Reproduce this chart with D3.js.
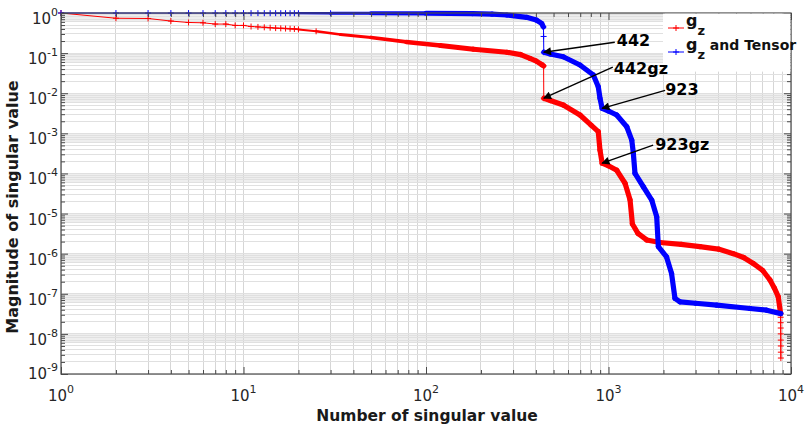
<!DOCTYPE html>
<html>
<head>
<meta charset="utf-8">
<script src="https://cdn.jsdelivr.net/npm/d3@7/dist/d3.min.js"></script>
<style>
  body { margin: 0; background: #fff; }
  svg text { font-family: "DejaVu Sans", sans-serif; }
</style>
</head>
<body>
<svg id="chart" width="809" height="425"></svg>
<script>
// singular value spectra (log-log)
const redN = [1, 2, 3, 4, 5, 6, 7, 8, 9, 10, 11, 12, 13, 14, 15, 16, 17, 18, 19, 20,
  25, 34, 50, 78, 120, 182, 277, 330, 371, 400, 430, 441, 442,
  480, 565, 698, 803, 879, 898, 923, 1000, 1109, 1232, 1312, 1352, 1450, 1619, 1914,
  2500, 3170, 4000, 4830, 5500, 6210, 7000, 7670, 8100, 8510, 8770,
  8775, 8780, 8784, 8788, 8791, 8794, 8797, 8800];
const redV = [1, 0.74, 0.73, 0.63, 0.58, 0.57, 0.53, 0.53, 0.49, 0.49, 0.46, 0.45, 0.44, 0.43, 0.42, 0.415, 0.41, 0.405, 0.40, 0.39,
  0.35, 0.29, 0.245, 0.19, 0.155, 0.125, 0.105, 0.092, 0.074, 0.064, 0.052, 0.048, 0.0075,
  0.0066, 0.0051, 0.00286, 0.0016, 0.0011, 0.00038, 0.00018, 0.000155, 0.00012, 0.000057, 0.000022, 0.0000055, 0.0000032, 0.0000022, 0.0000019,
  0.0000017, 0.0000015, 0.0000013, 0.000001, 0.0000008, 0.00000057, 0.00000038, 0.00000022, 0.00000014, 0.000000085, 0.000000032,
  0.000000026, 0.000000019, 0.000000014, 0.00000001, 0.000000007, 0.000000005, 0.0000000035, 0.0000000025];

const blueN = [1, 2, 3, 4, 5, 6, 7, 8, 9, 10, 11, 12, 13, 14, 15, 16, 17, 18, 19, 20,
  30, 50, 100, 180, 230, 277, 356, 402, 430, 440, 441, 442,
  480, 565, 698, 826, 879, 898, 923, 1000, 1109, 1259, 1341, 1368, 1397, 1552, 1725, 1837, 1876,
  2080, 2216, 2313, 2465, 3000, 3915, 5960, 7350, 8800];
const blueV = [1, 0.998, 0.997, 0.996, 0.995, 0.995, 0.994, 0.994, 0.993, 0.993, 0.992, 0.992, 0.991, 0.991, 0.99, 0.99, 0.99, 0.989, 0.989, 0.988,
  0.987, 0.985, 0.98, 0.965, 0.94, 0.89, 0.78, 0.67, 0.55, 0.45, 0.26, 0.105,
  0.095, 0.081, 0.0505, 0.0284, 0.0145, 0.0075, 0.0042, 0.0036, 0.00286, 0.00146, 0.00068, 0.00032, 0.0001, 0.0000466, 0.0000217, 0.0000083, 0.0000015,
  0.00000083, 0.00000032, 0.000000077, 0.000000063, 0.000000058, 0.000000052, 0.000000043, 0.000000039, 0.000000032];

const xTickExp = [0, 1, 2, 3, 4];
const yTickExp = [0, -1, -2, -3, -4, -5, -6, -7, -8, -9];

const annLabels = ['442', '442gz', '923', '923gz'];
const annSeries = ['blue', 'red', 'blue', 'red'];
const annN = [442, 442, 923, 923];
// arrow tail and text, as pixel offsets from the pointed point
const annTail = [[71, -10], [69, -31], [63, -18], [51, -18]];
const annText = [[73, -6], [70, -24], [63, -13], [53, -13]];

const legendNames = ['gz', 'gz and Tensor'];

const W = 809, H = 425;
const margin = { left: 61, top: 13, right: 18, bottom: 51 };
const pw = W - margin.left - margin.right;
const ph = H - margin.top - margin.bottom;

const svg = d3.select('#chart');
const g = svg.append('g').attr('transform', `translate(${margin.left},${margin.top})`);

const x = d3.scaleLog().domain([1, 1e4]).range([0, pw]);
const y = d3.scaleLog().domain([1e-9, 1]).range([ph, 0]);

const xMajor = xTickExp.map(e => Math.pow(10, e));
const yMajor = yTickExp.map(e => Math.pow(10, e));
const xMinor = [], yMinor = [];
xTickExp.slice(0, -1).forEach(e => { for (let m = 2; m <= 9; m++) xMinor.push(m * Math.pow(10, e)); });
yTickExp.slice(1).forEach(e => { for (let m = 2; m <= 9; m++) yMinor.push(m * Math.pow(10, e)); });

// light bands under each decade line (where the minor grid crowds together)
g.append('g').selectAll('rect').data(yMajor.slice(0, -1)).enter().append('rect')
  .attr('x', 0).attr('width', pw)
  .attr('y', d => y(d))
  .attr('height', d => y(d * 0.6) - y(d))
  .attr('fill', '#eeeeee');

const grid = g.append('g').attr('stroke-width', 1).attr('shape-rendering', 'crispEdges');
grid.selectAll('.vx').data(xMinor.concat(xMajor)).enter().append('line')
  .attr('x1', d => x(d)).attr('x2', d => x(d)).attr('y1', 0).attr('y2', ph)
  .attr('stroke', '#d6d6d6');
grid.selectAll('.hy').data(yMinor.concat(yMajor)).enter().append('line')
  .attr('y1', d => y(d)).attr('y2', d => y(d)).attr('x1', 0).attr('x2', pw)
  .attr('stroke', '#e0e0e0');

// clip for the curves
svg.append('defs').append('clipPath').attr('id', 'clip')
  .append('rect').attr('x', -3).attr('y', -3).attr('width', pw + 6).attr('height', ph + 6);

function bandWidth(n) {
  const t = Math.max(0, Math.min(1, (Math.log10(n) - 1.1) / 1.2));
  return 1 + t * 4.2;
}

function drawSeries(ns, vs, color) {
  const pts = ns.map((n, i) => ({ n, v: vs[i], px: x(n), py: y(vs[i]) }));
  const layer = g.append('g').attr('clip-path', 'url(#clip)');
  const segs = d3.pairs(pts);
  layer.selectAll('line').data(segs).enter().append('line')
    .attr('x1', d => d[0].px).attr('y1', d => d[0].py)
    .attr('x2', d => d[1].px).attr('y2', d => d[1].py)
    .attr('stroke', color)
    .attr('stroke-linecap', 'round')
    .attr('stroke-width', d => (d[1].px - d[0].px) < 0.5 ? 1 : bandWidth(d[1].n));
  // '+' markers where they are still visible on their own
  const marked = pts.filter((p, i) => {
    if (p.n <= 30) return true;
    const nx = pts[i + 1], pv = pts[i - 1];
    const steep = q => q && Math.abs(q.px - p.px) < 0.5 && Math.abs(q.py - p.py) > 3;
    return steep(nx) || steep(pv);
  });
  const mk = layer.selectAll('g.mk').data(marked).enter().append('g')
    .attr('transform', d => `translate(${d.px},${d.py})`);
  mk.append('line').attr('x1', -3).attr('x2', 3).attr('stroke', color);
  mk.append('line').attr('y1', -3).attr('y2', 3).attr('stroke', color);
}

drawSeries(redN, redV, '#ff0000');
drawSeries(blueN, blueV, '#0000ff');

// axes box + ticks (inward, all four sides)
const axisColor = '#4a4a4a';
function styleAxis(sel) {
  sel.select('.domain').remove();
  sel.selectAll('.tick line').attr('stroke', axisColor);
  sel.selectAll('.tick text').remove();
}
g.append('g').attr('transform', `translate(0,${ph})`).call(d3.axisBottom(x).tickValues(xMajor).tickSize(-7).tickSizeOuter(0)).call(styleAxis);
g.append('g').attr('transform', `translate(0,${ph})`).call(d3.axisBottom(x).tickValues(xMinor).tickSize(-4).tickSizeOuter(0)).call(styleAxis);
g.append('g').call(d3.axisTop(x).tickValues(xMajor).tickSize(-7).tickSizeOuter(0)).call(styleAxis);
g.append('g').call(d3.axisTop(x).tickValues(xMinor).tickSize(-4).tickSizeOuter(0)).call(styleAxis);
g.append('g').call(d3.axisLeft(y).tickValues(yMajor).tickSize(-7).tickSizeOuter(0)).call(styleAxis);
g.append('g').call(d3.axisLeft(y).tickValues(yMinor).tickSize(-4).tickSizeOuter(0)).call(styleAxis);
g.append('g').attr('transform', `translate(${pw},0)`).call(d3.axisRight(y).tickValues(yMajor).tickSize(-7).tickSizeOuter(0)).call(styleAxis);
g.append('g').attr('transform', `translate(${pw},0)`).call(d3.axisRight(y).tickValues(yMinor).tickSize(-4).tickSizeOuter(0)).call(styleAxis);

g.append('rect').attr('width', pw).attr('height', ph)
  .attr('fill', 'none').attr('stroke', axisColor).attr('stroke-width', 1.2);

// tick labels 10^k
const xl = g.append('g').selectAll('text').data(xTickExp).enter().append('text')
  .attr('x', d => x(Math.pow(10, d)))
  .attr('y', ph + 27)
  .attr('text-anchor', 'middle')
  .attr('fill', '#262626')
  .attr('font-size', 15);
xl.append('tspan').text('10');
xl.append('tspan').attr('dy', -8).attr('font-size', 11).text(d => d);

const yl = g.append('g').selectAll('text').data(yTickExp).enter().append('text')
  .attr('x', -3)
  .attr('y', (d, i) => y(Math.pow(10, d)) + (i === yTickExp.length - 1 ? 5 : 11))
  .attr('text-anchor', 'end')
  .attr('fill', '#262626')
  .attr('font-size', 15);
yl.append('tspan').text('10');
yl.append('tspan').attr('dy', -8).attr('font-size', 11).text(d => d);

// axis titles
svg.append('text')
  .attr('x', margin.left + pw / 2 + 1).attr('y', 421)
  .attr('text-anchor', 'middle')
  .attr('font-weight', 'bold').attr('font-size', 15.5).attr('fill', '#1a1a1a')
  .text('Number of singular value');
svg.append('text')
  .attr('transform', 'translate(18,207) rotate(-90)')
  .attr('text-anchor', 'middle')
  .attr('font-weight', 'bold').attr('font-size', 16).attr('fill', '#1a1a1a')
  .text('Magnitude of singular value');

// legend
const lg = g.append('g').attr('transform', `translate(${pw - 128},0)`);
lg.append('rect').attr('x', 0).attr('y', 0.6).attr('width', 127.4).attr('height', 58).attr('fill', '#fff');
const legendColors = ['#ff0000', '#0000ff'];
legendNames.forEach((name, i) => {
  const ly = 15 + i * 24;
  const row = lg.append('g').attr('transform', `translate(0,${ly})`);
  row.append('line').attr('x1', 5).attr('x2', 21).attr('stroke', legendColors[i]);
  row.append('line').attr('x1', 10).attr('x2', 16).attr('stroke', legendColors[i]);
  row.append('line').attr('x1', 13).attr('x2', 13).attr('y1', -3).attr('y2', 3).attr('stroke', legendColors[i]);
  const t = row.append('text').attr('x', 23).attr('y', -2)
    .attr('font-family', '"Liberation Sans", Arial, sans-serif')
    .attr('font-weight', 'bold').attr('font-size', 16).attr('fill', '#111');
  t.append('tspan').text(name.charAt(0));
  t.append('tspan').attr('dy', 9).attr('font-size', 13).text(name.charAt(1));
  if (name.length > 2) t.append('tspan').attr('x', 42).attr('dy', -9).attr('font-size', 14).text(name.slice(2));
});

// annotations with arrows
svg.select('defs').append('marker')
  .attr('id', 'arrow').attr('viewBox', '0 0 10 10')
  .attr('refX', 9).attr('refY', 5)
  .attr('markerWidth', 11).attr('markerHeight', 8)
  .attr('markerUnits', 'userSpaceOnUse')
  .attr('orient', 'auto')
  .append('path').attr('d', 'M0,0 L10,5 L0,10 z').attr('fill', '#000');

const ann = g.append('g');
annLabels.forEach((lab, i) => {
  const ns = annSeries[i] === 'red' ? redN : blueN;
  const vs = annSeries[i] === 'red' ? redV : blueV;
  const v = vs[ns.indexOf(annN[i])];
  const tx = x(annN[i]), ty = y(v);
  ann.append('line')
    .attr('x1', tx + annTail[i][0]).attr('y1', ty + annTail[i][1])
    .attr('x2', tx).attr('y2', ty)
    .attr('stroke', '#000').attr('stroke-width', 1.4)
    .attr('marker-end', 'url(#arrow)');
  ann.append('text')
    .attr('x', tx + annText[i][0]).attr('y', ty + annText[i][1])
    .attr('font-family', '"Liberation Sans", Arial, sans-serif')
    .attr('font-weight', 'bold').attr('font-size', 16).attr('fill', '#000')
    .text(lab);
});
</script>
</body>
</html>
